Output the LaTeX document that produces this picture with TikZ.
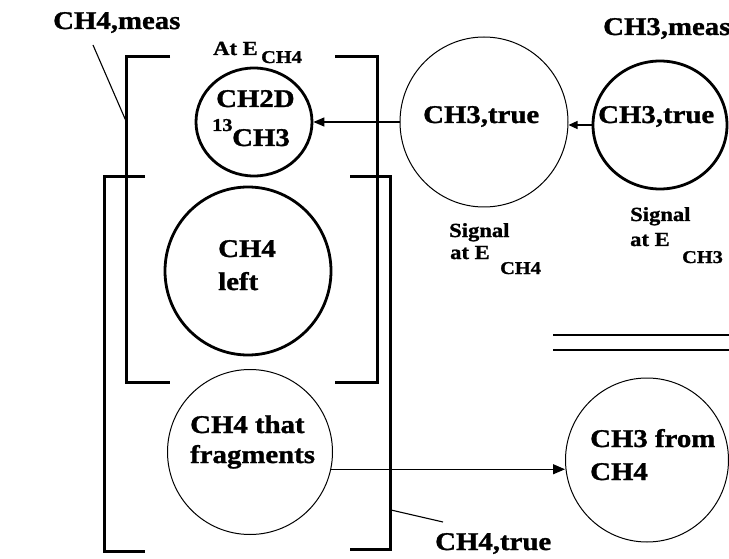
\documentclass[tikz,border=0pt]{standalone}
\usepackage{fontspec}
\setmainfont{Liberation Serif}[FakeStretch=1.13, BoldFeatures={FakeBold=1.2}]
\usetikzlibrary{shapes.geometric,arrows.meta}
\begin{document}
\begin{tikzpicture}[x=1pt,y=-1pt,
  thickc/.style={draw, ellipse, line width=2.8pt, inner sep=0pt},
  thinc/.style={draw, ellipse, line width=1pt, inner sep=0pt},
  brk/.style={line width=3pt, line join=miter},
  lead/.style={line width=1.1pt},
  dbl/.style={line width=1.4pt},
  arr/.style={line width=1.3pt, -{Triangle[length=11pt,width=9pt]}},
  big/.style={font=\fontsize{25.5}{27}\selectfont\bfseries, inner sep=0pt, anchor=base west},
  mid/.style={font=\fontsize{20}{22}\selectfont\bfseries, inner sep=0pt, anchor=base west},
  sml/.style={font=\fontsize{18}{20}\selectfont\bfseries, inner sep=0pt, anchor=base west}
]
\useasboundingbox (0,0) rectangle (729,559);

% circles
\node[thickc, minimum width=116pt, minimum height=108pt] (c1) at (254,122) {};
\node[thinc,  minimum width=168pt, minimum height=170pt] (c2) at (484,122) {};
\node[thickc, minimum width=134pt, minimum height=128pt] (c3) at (660,125) {};
\node[thickc, minimum width=166pt, minimum height=168pt] (c4) at (248,271) {};
\node[thinc,  minimum width=165pt, minimum height=165pt] (c5) at (250,452) {};
\node[thinc,  minimum width=163pt, minimum height=164pt] (c6) at (647,460) {};

% brackets (CH4,meas)
\draw[brk] (170,57) -- (126,57) -- (126,382) -- (170,382);
\draw[brk] (335,57) -- (377,57) -- (377,382) -- (335,382);
% brackets (CH4,true)
\draw[brk] (145,177) -- (104,177) -- (104,551) -- (145,551);
\draw[brk] (350,177) -- (390,177) -- (390,549) -- (350,549);

% double line
\draw[dbl] (553,335) -- (729,335);
\draw[dbl] (553,350) -- (729,350);

% texts
\node[big] (tmeas) at (53,29) {CH4,meas};
\node[mid] (tatE) at (213,55) {At E};
\node[sml] (tatEs) at (261,63) {CH4};
\node[big] (tch2d) at (216,107) {CH2D};
\node[sml] (t13) at (212,131) {13};
\node[big] (tch3a) at (232,146) {CH3};
\node[big] (ttrue1) at (423,123) {CH3,true};
\node[big] (ttrue2) at (598,123) {CH3,true};
\node[big] (tmeas3) at (603,35) {CH3,meas};
\node[mid] (tsig1) at (449,237) {Signal};
\node[mid] (tatE1) at (450,259) {at E};
\node[sml] (tatE1s) at (500,274) {CH4};
\node[mid] (tsig2) at (630,221) {Signal};
\node[mid] (tatE2) at (630,246) {at E};
\node[sml] (tatE2s) at (682,263) {CH3};
\node[big] (tch4) at (218,257) {CH4};
\node[big] (tleft) at (218,290) {left};
\node[big] (tfr1) at (190,433) {CH4 that};
\node[big] (tfr2) at (190,463) {fragments};
\node[big] (tfrom1) at (590,447) {CH3 from};
\node[big] (tfrom2) at (590,480) {CH4};
\node[big] (ttrue) at (435,550) {CH4,true};

% leaders
\coordinate (lm1) at (93,45);
\coordinate (lm2) at (126,121);
\draw[lead] (lm1) -- (lm2);
\coordinate (lt1) at (391,510);
\coordinate (lt2) at (443,522);
\draw[lead] (lt1) -- (lt2);

% arrows
\draw[arr, -{Triangle[length=9pt,width=8pt]}] (c3.west) -- (c3.west -| c2.east);
\draw[arr] (c2.west) -- (c1.east);
\coordinate (fa) at (c5.-12);
\draw[arr, -{Triangle[length=12pt,width=10pt]}] (fa) -- (fa -| c6.west);
\end{tikzpicture}
\end{document}
